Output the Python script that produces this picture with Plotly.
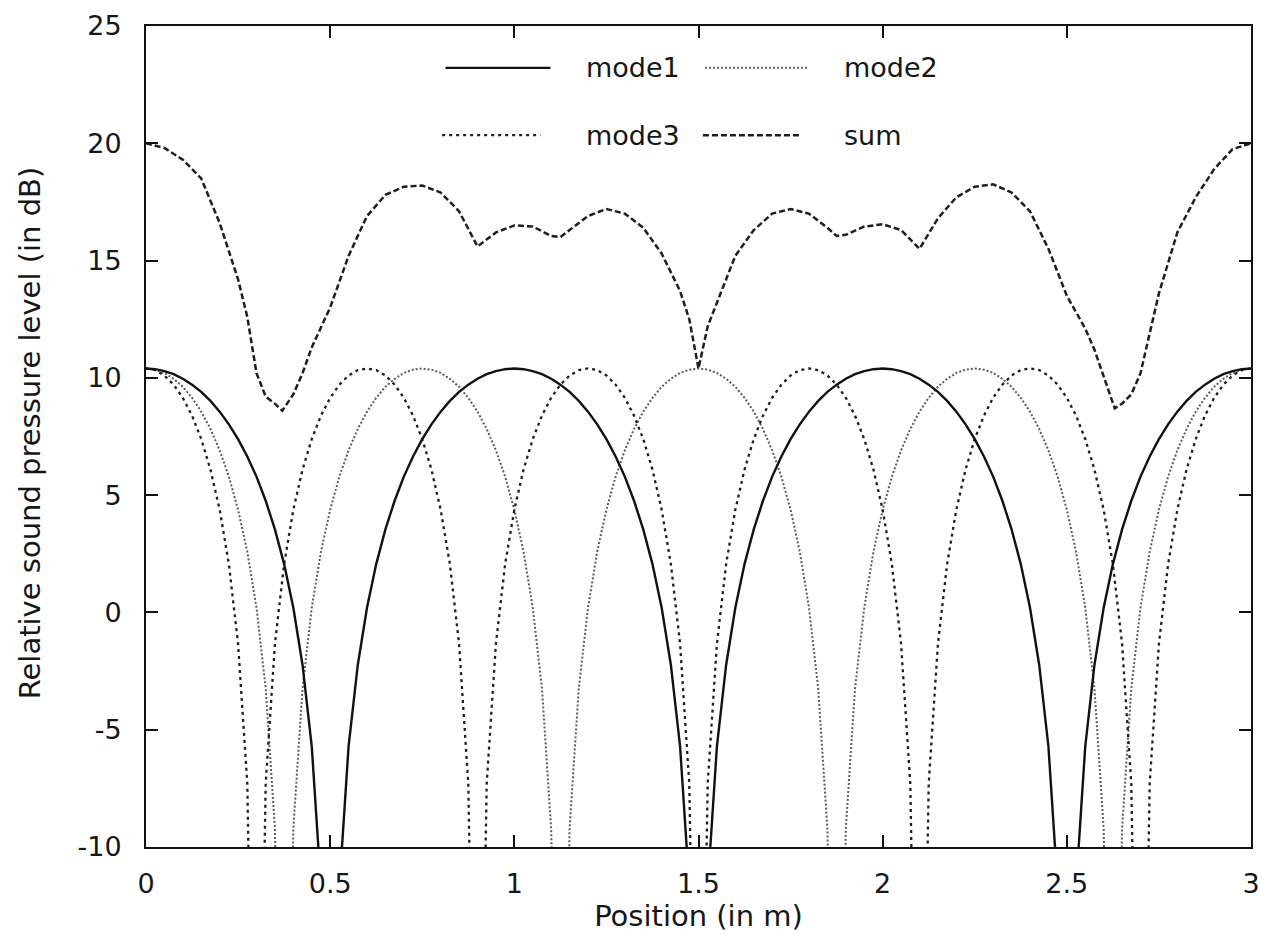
import plotly.graph_objects as go

# ---------------- data ----------------
x_pos = [
    0.0, 0.025, 0.05, 0.075, 0.1, 0.125, 0.15, 0.175, 0.2, 0.225,
    0.25, 0.275, 0.3, 0.325, 0.35, 0.375, 0.4, 0.425, 0.45, 0.475,
    0.5, 0.525, 0.55, 0.575, 0.6, 0.625, 0.65, 0.675, 0.7, 0.725,
    0.75, 0.775, 0.8, 0.825, 0.85, 0.875, 0.9, 0.925, 0.95, 0.975,
    1.0, 1.025, 1.05, 1.075, 1.1, 1.125, 1.15, 1.175, 1.2, 1.225,
    1.25, 1.275, 1.3, 1.325, 1.35, 1.375, 1.4, 1.425, 1.45, 1.475,
    1.5, 1.525, 1.55, 1.575, 1.6, 1.625, 1.65, 1.675, 1.7, 1.725,
    1.75, 1.775, 1.8, 1.825, 1.85, 1.875, 1.9, 1.925, 1.95, 1.975,
    2.0, 2.025, 2.05, 2.075, 2.1, 2.125, 2.15, 2.175, 2.2, 2.225,
    2.25, 2.275, 2.3, 2.325, 2.35, 2.375, 2.4, 2.425, 2.45, 2.475,
    2.5, 2.525, 2.55, 2.575, 2.6, 2.625, 2.65, 2.675, 2.7, 2.725,
    2.75, 2.775, 2.8, 2.825, 2.85, 2.875, 2.9, 2.925, 2.95, 2.975,
    3.0,
]

mode1 = [
    10.4, 10.37, 10.29, 10.16, 9.96, 9.71, 9.40, 9.02, 8.56, 8.02,
    7.39, 6.65, 5.79, 4.76, 3.54, 2.06, 0.20, -2.24, -5.71, -11.70,
    -30,
    -11.70, -5.71, -2.24, 0.20, 2.06, 3.54, 4.76, 5.79, 6.65, 7.39,
    8.02, 8.56, 9.02, 9.40, 9.71, 9.96, 10.16, 10.29, 10.37, 10.4,
    10.37, 10.29, 10.16, 9.96, 9.71, 9.40, 9.02, 8.56, 8.02, 7.39,
    6.65, 5.79, 4.76, 3.54, 2.06, 0.20, -2.24, -5.71, -11.70, -30,
    -11.70, -5.71, -2.24, 0.20, 2.06, 3.54, 4.76, 5.79, 6.65, 7.39,
    8.02, 8.56, 9.02, 9.40, 9.71, 9.96, 10.16, 10.29, 10.37, 10.4,
    10.37, 10.29, 10.16, 9.96, 9.71, 9.40, 9.02, 8.56, 8.02, 7.39,
    6.65, 5.79, 4.76, 3.54, 2.06, 0.20, -2.24, -5.71, -11.70, -30,
    -11.70, -5.71, -2.24, 0.20, 2.06, 3.54, 4.76, 5.79, 6.65, 7.39,
    8.02, 8.56, 9.02, 9.40, 9.71, 9.96, 10.16, 10.29, 10.37, 10.4,
]

mode2 = [
    10.4, 10.35, 10.21, 9.96, 9.62, 9.15, 8.56, 7.82, 6.91, 5.79,
    4.38, 2.59, 0.20, -3.24, -9.22, -30,
    -9.22, -3.24, 0.20, 2.59, 4.38, 5.79, 6.91, 7.82, 8.56, 9.15,
    9.62, 9.96, 10.21, 10.35, 10.4,
    10.35, 10.21, 9.96, 9.62, 9.15, 8.56, 7.82, 6.91, 5.79, 4.38,
    2.59, 0.20, -3.24, -9.22, -30,
    -9.22, -3.24, 0.20, 2.59, 4.38, 5.79, 6.91, 7.82, 8.56, 9.15,
    9.62, 9.96, 10.21, 10.35, 10.4,
    10.35, 10.21, 9.96, 9.62, 9.15, 8.56, 7.82, 6.91, 5.79, 4.38,
    2.59, 0.20, -3.24, -9.22, -30,
    -9.22, -3.24, 0.20, 2.59, 4.38, 5.79, 6.91, 7.82, 8.56, 9.15,
    9.62, 9.96, 10.21, 10.35, 10.4,
    10.35, 10.21, 9.96, 9.62, 9.15, 8.56, 7.82, 6.91, 5.79, 4.38,
    2.59, 0.20, -3.24, -9.22, -30,
    -9.22, -3.24, 0.20, 2.59, 4.38, 5.79, 6.91, 7.82, 8.56, 9.15,
    9.62, 9.96, 10.21, 10.35, 10.4,
]

mode3 = [
    10.4, 10.33, 10.10, 9.71, 9.15, 8.39, 7.39, 6.09, 4.38, 2.06,
    -1.34, -7.29, -30,
    -7.29, -1.34, 2.06, 4.38, 6.09, 7.39, 8.39, 9.15, 9.71, 10.10, 10.33, 10.4,
    10.33, 10.10, 9.71, 9.15, 8.39, 7.39, 6.09, 4.38, 2.06, -1.34, -7.29, -30,
    -7.29, -1.34, 2.06, 4.38, 6.09, 7.39, 8.39, 9.15, 9.71, 10.10, 10.33, 10.4,
    10.33, 10.10, 9.71, 9.15, 8.39, 7.39, 6.09, 4.38, 2.06, -1.34, -7.29, -30,
    -7.29, -1.34, 2.06, 4.38, 6.09, 7.39, 8.39, 9.15, 9.71, 10.10, 10.33, 10.4,
    10.33, 10.10, 9.71, 9.15, 8.39, 7.39, 6.09, 4.38, 2.06, -1.34, -7.29, -30,
    -7.29, -1.34, 2.06, 4.38, 6.09, 7.39, 8.39, 9.15, 9.71, 10.10, 10.33, 10.4,
    10.33, 10.10, 9.71, 9.15, 8.39, 7.39, 6.09, 4.38, 2.06, -1.34, -7.29, -30,
    -7.29, -1.34, 2.06, 4.38, 6.09, 7.39, 8.39, 9.15, 9.71, 10.10, 10.33, 10.4,
]

sum_x = [
    0.0, 0.05, 0.1, 0.15, 0.2, 0.25, 0.275, 0.3, 0.325, 0.35,
    0.37, 0.4, 0.425, 0.45, 0.5, 0.55, 0.6, 0.65, 0.7, 0.75,
    0.8, 0.85, 0.9, 0.95, 1.0, 1.05, 1.1, 1.125, 1.15, 1.2,
    1.25, 1.3, 1.35, 1.4, 1.45, 1.475, 1.5, 1.525, 1.55, 1.6,
    1.65, 1.7, 1.75, 1.8, 1.85, 1.875, 1.9, 1.95, 2.0, 2.05,
    2.1, 2.15, 2.2, 2.25, 2.3, 2.35, 2.4, 2.45, 2.5, 2.55,
    2.575, 2.6, 2.63, 2.65, 2.675, 2.7, 2.725, 2.75, 2.8, 2.85,
    2.9, 2.95, 3.0,
]
sum_y = [
    20.0, 19.8, 19.3, 18.5, 16.6, 14.2, 12.6, 10.2, 9.2, 8.9,
    8.6, 9.3, 10.2, 11.3, 13.0, 15.2, 16.9, 17.8, 18.15, 18.2,
    17.9, 17.1, 15.6, 16.2, 16.5, 16.45, 16.05, 16.0, 16.3, 16.9,
    17.2, 17.0, 16.4, 15.3, 13.7, 12.5, 10.4, 12.2, 13.2, 15.2,
    16.3, 17.0, 17.2, 17.0, 16.4, 16.05, 16.1, 16.45, 16.55, 16.3,
    15.5, 16.8, 17.7, 18.15, 18.25, 17.9, 17.1, 15.5, 13.5, 12.1,
    11.2, 10.1, 8.7, 8.9, 9.3, 10.2, 11.9, 13.6, 16.2, 17.7,
    18.9, 19.75, 20.0,
]

series_names = ["mode1", "mode2", "mode3", "sum"]
x_ticks = [0, 0.5, 1, 1.5, 2, 2.5, 3]
x_tick_text = ["0", "0.5", "1", "1.5", "2", "2.5", "3"]
y_ticks = [-10, -5, 0, 5, 10, 15, 20, 25]
y_tick_text = ["-10", "-5", "0", "5", "10", "15", "20", "25"]
x_title = "Position (in m)"
y_title = "Relative sound pressure level (in dB)"

# ---------------- styles ----------------
FONT = "DejaVu Sans, Verdana, sans-serif"
INK = "#161616"
styles = {
    "mode1": dict(color="#111111", width=2.4, dash="solid"),
    "mode2": dict(color="#5c5c5c", width=2.0, dash="2px,2px"),
    "mode3": dict(color="#1e1e1e", width=2.3, dash="3px,4px"),
    "sum": dict(color="#1e1e1e", width=2.5, dash="6px,3px"),
}

fig = go.Figure()
data_map = {
    "mode1": (x_pos, mode1),
    "mode2": (x_pos, mode2),
    "mode3": (x_pos, mode3),
    "sum": (sum_x, sum_y),
}
for name in ["mode2", "mode3", "mode1", "sum"]:
    xs, ys = data_map[name]
    fig.add_trace(go.Scatter(
        x=xs, y=ys, mode="lines", name=name,
        line=styles[name], showlegend=False,
    ))

# ---------------- legend (2 x 2, drawn inside the frame) ----------------
legend_layout = [
    ("mode1", 0.271, 0.366, 0.396, 0.949),
    ("mode2", 0.506, 0.599, 0.630, 0.949),
    ("mode3", 0.268, 0.357, 0.396, 0.867),
    ("sum", 0.504, 0.592, 0.630, 0.867),
]
for name, x0, x1, xt, yy in legend_layout:
    st = styles[name]
    fig.add_shape(type="line", xref="paper", yref="paper",
                  x0=x0, x1=x1, y0=yy, y1=yy,
                  line=dict(color=st["color"], width=st["width"], dash=st["dash"]))
    fig.add_annotation(xref="paper", yref="paper", x=xt, y=yy,
                       text=name, showarrow=False, xanchor="left", yanchor="middle",
                       font=dict(family=FONT, size=27, color=INK))

# y-axis title placed further left than Plotly's automatic position allows
fig.add_annotation(xref="paper", yref="paper", x=-0.105, y=0.505,
                   text=y_title, textangle=-90, showarrow=False,
                   xanchor="center", yanchor="middle",
                   font=dict(family=FONT, size=29, color=INK))

axis_common = dict(
    showline=True, linecolor="#111111", linewidth=2, mirror="ticks",
    ticks="inside", ticklen=12, tickwidth=2, tickcolor="#111111",
    showgrid=False, zeroline=False,
    tickfont=dict(family=FONT, size=27, color=INK),
    automargin=False,
)

fig.update_layout(
    width=1262, height=935,
    margin=dict(l=146, r=11, t=26, b=88),
    paper_bgcolor="white", plot_bgcolor="white",
    font=dict(family=FONT, size=27, color=INK),
    xaxis=dict(range=[0, 3], tickvals=x_ticks, ticktext=x_tick_text,
               ticklabelstandoff=12,
               title=dict(text=x_title, standoff=2,
                          font=dict(family=FONT, size=29, color=INK)),
               **axis_common),
    yaxis=dict(range=[-10, 25], tickvals=y_ticks, ticktext=y_tick_text,
               ticklabelstandoff=17,
               **axis_common),
)

fig.write_html("out.html")
